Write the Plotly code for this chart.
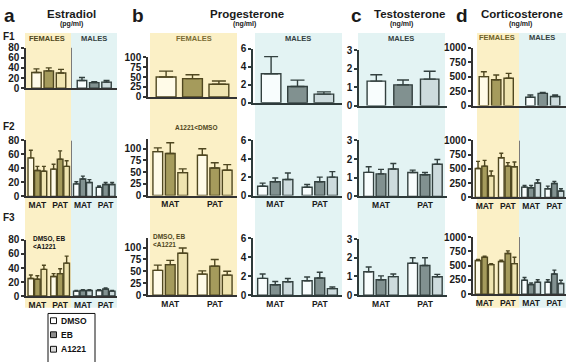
import plotly.graph_objects as go

W, H = 566, 362
TREAT = ["DMSO", "EB", "A1221"]
GEN_GROUPS = ["MAT", "PAT"]

# ---------------- data (rows: DMSO, EB, A1221; columns: groups) ----------------
# Estradiol (pg/ml)
E2_F1_FEM = [[31], [34], [30]]
E2_F1_FEM_ERR = [[7], [6], [7]]
E2_F1_MAL = [[15], [11], [12]]
E2_F1_MAL_ERR = [[6], [2], [3]]
E2_F2_FEM = [[55, 39], [37, 53], [36, 43]]
E2_F2_FEM_ERR = [[11, 7], [6, 12], [7, 8]]
E2_F2_MAL = [[18, 13], [25, 17], [20, 17]]
E2_F2_MAL_ERR = [[3, 2], [4, 3], [4, 3]]
E2_F3_FEM = [[25, 28], [24, 32], [38, 47]]
E2_F3_FEM_ERR = [[5, 4], [5, 7], [6, 10]]
E2_F3_MAL = [[7, 8], [8, 10], [8, 7]]
E2_F3_MAL_ERR = [[1, 1], [1, 1.5], [1, 1]]

# Progesterone (ng/ml)
P4_F1_FEM = [[50], [46], [32]]
P4_F1_FEM_ERR = [[15], [10], [8]]
P4_F1_MAL = [[3.2], [1.8], [0.95]]
P4_F1_MAL_ERR = [[1.9], [0.7], [0.25]]
P4_F2_FEM = [[94, 86], [90, 59], [49, 54]]
P4_F2_FEM_ERR = [[8, 14], [23, 11], [8, 12]]
P4_F2_MAL = [[1.0, 0.9], [1.5, 1.5], [1.75, 2.0]]
P4_F2_MAL_ERR = [[0.35, 0.3], [0.4, 0.5], [0.7, 0.6]]
P4_F3_FEM = [[52, 44], [64, 61], [88, 42]]
P4_F3_FEM_ERR = [[11, 7], [9, 14], [11, 8]]
P4_F3_MAL = [[1.76, 1.5], [1.08, 1.8], [1.4, 0.68]]
P4_F3_MAL_ERR = [[0.45, 0.4], [0.35, 0.6], [0.35, 0.17]]

# Testosterone (ng/ml), males only
T_F1_MAL = [[1.33], [1.13], [1.44]]
T_F1_MAL_ERR = [[0.35], [0.26], [0.43]]
T_F2_MAL = [[1.29, 1.28], [1.21, 1.16], [1.47, 1.72]]
T_F2_MAL_ERR = [[0.3, 0.13], [0.24, 0.12], [0.29, 0.26]]
T_F3_MAL = [[1.25, 1.7], [0.82, 1.58], [0.99, 0.98]]
T_F3_MAL_ERR = [[0.25, 0.3], [0.21, 0.42], [0.14, 0.13]]

# Corticosterone (ng/ml)
C_F1_FEM = [[500], [444], [472]]
C_F1_FEM_ERR = [[83], [84], [84]]
C_F1_MAL = [[144], [211], [156]]
C_F1_MAL_ERR = [[39], [17], [27]]
C_F2_FEM = [[508, 695], [548, 548], [378, 537]]
C_F2_FEM_ERR = [[125, 79], [102, 62], [85, 84]]
C_F2_MAL = [[181, 153], [169, 243], [254, 113]]
C_F2_MAL_ERR = [[28, 45], [40, 39], [57, 40]]
C_F3_FEM = [[590, 573], [646, 713], [517, 534]]
C_F3_FEM_ERR = [[20, 20], [20, 45], [15, 112]]
C_F3_MAL = [[242, 208], [169, 354], [208, 185]]
C_F3_MAL_ERR = [[50, 45], [28, 67], [45, 57]]

E2_TICKS = [0, 20, 40, 60, 80]
P4F_TICKS = [0, 25, 50, 75, 100]
P4M_TICKS = [0, 2, 4, 6]
T_TICKS = [0, 1, 2, 3]
C_TICKS = [0, 250, 500, 750, 1000]

# ---------------- styles ----------------
FONT = "Liberation Sans, Arial, sans-serif"
FILL = {"F": ["#fffbe8", "#a59b5c", "#efe4b0"],
        "M": ["#f8fdfd", "#819190", "#cddbdd"]}
EDGE = {"F": "#4f4720", "M": "#33403f"}
YELLOW = "#fbf0c6"
BLUE = "#e3f3f3"
INK = "#1a1a1a"

fig = go.Figure()


def px_x(v):
    return v / W


def px_y(v):
    return 1 - v / H


def names(n):
    return ("x" if n == 1 else f"x{n}"), ("y" if n == 1 else f"y{n}")


def add_bars(n, xpos, means, errs, sex, g, f, cap):
    xa, ya = names(n)
    slot = g / 3
    for i in range(3):
        fig.add_trace(go.Bar(
            x=xpos, y=means[i],
            offset=-g / 2 + i * slot + slot * (1 - f) / 2, width=slot * f,
            marker=dict(color=FILL[sex][i], line=dict(color=EDGE[sex], width=1.4)),
            error_y=dict(type="data", symmetric=False, array=errs[i],
                         arrayminus=[0] * len(errs[i]), color=EDGE[sex],
                         thickness=1.4, width=cap),
            xaxis=xa, yaxis=ya, showlegend=False, hoverinfo="skip"))


layout_axes = {}


def add_axes(n, xdom, ybot, ytop, xrange, yrange, yticks, xticktext, linecol):
    xa, ya = names(n)
    xkey = "xaxis" if n == 1 else f"xaxis{n}"
    ykey = "yaxis" if n == 1 else f"yaxis{n}"
    layout_axes[xkey] = dict(
        domain=[px_x(xdom[0]), px_x(xdom[1])], range=xrange, anchor=ya,
        showline=True, linecolor=linecol, linewidth=1.5, showgrid=False,
        zeroline=False, ticks="",
        tickvals=list(range(len(xticktext))) if xticktext else [],
        ticktext=xticktext if xticktext else [],
        showticklabels=bool(xticktext),
        tickfont=dict(family=FONT, size=8.5, color=INK, weight="bold"))
    layout_axes[ykey] = dict(
        domain=[px_y(ybot), px_y(ytop)], range=yrange, anchor=xa,
        showline=True, linecolor=linecol, linewidth=1.5, showgrid=False,
        zeroline=False, ticks="outside", ticklen=3, tickwidth=1.5,
        tickcolor=linecol, tickvals=yticks,
        tickfont=dict(family=FONT, size=10, color=INK, weight="bold"))


# x domains (pixels)
XA = (26, 117)
XBF = (148, 237)
XBM = (253, 342)
XC = (359, 447)
XD = (473, 566)
SEXGEN = GEN_GROUPS + GEN_GROUPS

# ---- row F1 ----
add_axes(1, XA, 85, 43, [-0.5, 1.5], [0, 80], E2_TICKS, None, "#333")
add_bars(1, [0], E2_F1_FEM, E2_F1_FEM_ERR, "F", 0.81, 0.77, 3)
add_bars(1, [1], E2_F1_MAL, E2_F1_MAL_ERR, "M", 0.81, 0.77, 3)

add_axes(2, XBF, 94, 53, [-0.5, 0.5], [0, 100], P4F_TICKS, None, "#333")
add_bars(2, [0], P4_F1_FEM, P4_F1_FEM_ERR, "F", 0.89, 0.75, 7)
add_axes(3, XBM, 100, 44, [-0.5, 0.5], [0, 6], P4M_TICKS, None, "#2e3a3a")
add_bars(3, [0], P4_F1_MAL, P4_F1_MAL_ERR, "M", 0.89, 0.74, 7)

add_axes(4, XC, 103, 46, [-0.5, 0.5], [0, 3], T_TICKS, None, "#2e3a3a")
add_bars(4, [0], T_F1_MAL, T_F1_MAL_ERR, "M", 0.91, 0.69, 6)

add_axes(5, XD, 103, 43, [-0.5, 1.5], [0, 1000], C_TICKS, None, "#333")
add_bars(5, [0], C_F1_FEM, C_F1_FEM_ERR, "F", 0.8, 0.75, 3)
add_bars(5, [1], C_F1_MAL, C_F1_MAL_ERR, "M", 0.8, 0.75, 3)

# ---- row F2 ----
add_axes(6, XA, 197, 139, [-0.5, 3.5], [0, 80], E2_TICKS, SEXGEN, "#333")
add_bars(6, [0, 1], E2_F2_FEM, E2_F2_FEM_ERR, "F", 0.86, 0.87, 2)
add_bars(6, [2, 3], E2_F2_MAL, E2_F2_MAL_ERR, "M", 0.86, 0.87, 2)

add_axes(7, XBF, 196, 138, [-0.5, 1.5], [0, 120], P4F_TICKS, GEN_GROUPS, "#333")
add_bars(7, [0, 1], P4_F2_FEM, P4_F2_FEM_ERR, "F", 0.84, 0.78, 4)
add_axes(8, XBM, 196, 139, [-0.5, 1.5], [0, 6], P4M_TICKS, GEN_GROUPS, "#2e3a3a")
add_bars(8, [0, 1], P4_F2_MAL, P4_F2_MAL_ERR, "M", 0.85, 0.79, 3)

add_axes(9, XC, 197, 139, [-0.5, 1.5], [0, 3], T_TICKS, GEN_GROUPS, "#2e3a3a")
add_bars(9, [0, 1], T_F2_MAL, T_F2_MAL_ERR, "M", 0.84, 0.79, 3)

add_axes(10, XD, 198, 139, [-0.5, 3.5], [0, 1000], C_TICKS, SEXGEN, "#333")
add_bars(10, [0, 1], C_F2_FEM, C_F2_FEM_ERR, "F", 0.85, 0.85, 2)
add_bars(10, [2, 3], C_F2_MAL, C_F2_MAL_ERR, "M", 0.85, 0.85, 2)

# ---- row F3 ----
add_axes(11, XA, 300, 242, [-0.5, 3.5], [0, 80], E2_TICKS, SEXGEN, "#333")
add_bars(11, [0, 1], E2_F3_FEM, E2_F3_FEM_ERR, "F", 0.86, 0.87, 2)
add_bars(11, [2, 3], E2_F3_MAL, E2_F3_MAL_ERR, "M", 0.86, 0.87, 2)

add_axes(12, XBF, 299, 240, [-0.5, 1.5], [0, 120], P4F_TICKS, GEN_GROUPS, "#333")
add_bars(12, [0, 1], P4_F3_FEM, P4_F3_FEM_ERR, "F", 0.84, 0.78, 4)
add_axes(13, XBM, 299, 240, [-0.5, 1.5], [0, 6], P4M_TICKS, GEN_GROUPS, "#2e3a3a")
add_bars(13, [0, 1], P4_F3_MAL, P4_F3_MAL_ERR, "M", 0.85, 0.79, 3)

add_axes(14, XC, 299, 241, [-0.5, 1.5], [0, 3], T_TICKS, GEN_GROUPS, "#2e3a3a")
add_bars(14, [0, 1], T_F3_MAL, T_F3_MAL_ERR, "M", 0.84, 0.79, 3)

add_axes(15, XD, 298, 239, [-0.5, 3.5], [0, 1000], C_TICKS, SEXGEN, "#333")
add_bars(15, [0, 1], C_F3_FEM, C_F3_FEM_ERR, "F", 0.85, 0.85, 2)
add_bars(15, [2, 3], C_F3_MAL, C_F3_MAL_ERR, "M", 0.85, 0.85, 2)

# ---- background regions ----
shapes = []


def rect(x0, x1, y0, y1, col, line=None):
    shapes.append(dict(type="rect", xref="paper", yref="paper",
                       x0=px_x(x0), x1=px_x(x1), y0=px_y(y1), y1=px_y(y0),
                       fillcolor=col, line=line or dict(width=0),
                       layer="below" if line is None else "above"))


rect(25, 71, 28, 312, YELLOW)
rect(71, 117, 28, 312, BLUE)
rect(150, 237, 28, 300, YELLOW)
rect(255, 342, 28, 300, BLUE)
rect(358, 445, 28, 300, BLUE)
rect(477, 519, 28, 312, YELLOW)
rect(519, 566, 28, 312, BLUE)

# female / male divider lines
for n, xv, top in [(1, 0.5, 80), (6, 1.5, 80), (10, 1.5, 1000), (15, 1.5, 1000)]:
    xa, ya = names(n)
    shapes.append(dict(type="line", xref=xa, yref=ya, x0=xv, x1=xv, y0=0, y1=top,
                       line=dict(color="#7a7a7a", width=1)))

# ---- text ----
anns = []


def ann(text, x, y, size, color=INK, xanchor="center", align="center"):
    anns.append(dict(text=text, x=px_x(x), y=px_y(y), xref="paper", yref="paper",
                     xanchor=xanchor, yanchor="middle", showarrow=False, align=align,
                     font=dict(family=FONT, size=size, color=color)))


ann("<b>a</b>", 2, 10, 19, xanchor="left")
ann("<b>b</b>", 130, 10, 19, xanchor="left")
ann("<b>c</b>", 349, 10, 19, xanchor="left")
ann("<b>d</b>", 454, 10, 19, xanchor="left")
ann("<b>Estradiol</b>", 71, 8, 11.5)
ann("<b>(pg/ml)</b>", 71, 19, 7)
ann("<b>Progesterone</b>", 247, 8, 11.5)
ann("<b>(ng/ml)</b>", 244, 19, 7)
ann("<b>Testosterone</b>", 409, 8, 11.5)
ann("<b>(ng/ml)</b>", 401, 19, 7)
ann("<b>Corticosterone</b>", 522, 8, 11.5)
ann("<b>(ng/ml)</b>", 520, 19, 7)
ann("<b>F1</b>", 1, 32, 10, xanchor="left")
ann("<b>F2</b>", 1, 125, 10, xanchor="left")
ann("<b>F3</b>", 1, 219, 10, xanchor="left")

FEM_TXT = "#4f4720"
MAL_TXT = "#33403f"
ann("<b>FEMALES</b>", 47, 34, 7.5, FEM_TXT)
ann("<b>MALES</b>", 94, 34, 7.5, MAL_TXT)
ann("<b>FEMALES</b>", 194, 34, 7.5, "#7a6d35")
ann("<b>MALES</b>", 298, 34, 7.5, MAL_TXT)
ann("<b>MALES</b>", 401, 34, 7.5, MAL_TXT)
ann("<b>FEMALES</b>", 497, 33, 7.5, "#6e6228")
ann("<b>MALES</b>", 542, 33, 7.5, MAL_TXT)

ann("<b>A1221&lt;DMSO</b>", 196, 126, 6.5, FEM_TXT)
ann("<b>DMSO, EB<br>&lt;A1221</b>", 151, 243, 6.5, FEM_TXT, xanchor="left", align="left")
ann("<b>DMSO, EB<br>&lt;A1221</b>", 31, 245, 6.5, "#111", xanchor="left", align="left")

# ---- legend box (drawn in page pixels) ----
LEG_FILL = ["#ffffff", "#8c8c8c", "#d9d9d9"]
LEG_ROWS = [325.5, 340, 355]
rect(48, 95, 318, 370, "white", dict(color="#111", width=1))
for i, t in enumerate(TREAT):
    yc = LEG_ROWS[i]
    rect(50.5, 56.5, yc - 3, yc + 3, LEG_FILL[i], dict(color="#111", width=1))
    ann(f"<b>{t}</b>", 59, yc, 8.5, "#111", xanchor="left", align="left")

fig.update_layout(
    width=W, height=H, autosize=False,
    margin=dict(l=0, r=0, t=0, b=0),
    paper_bgcolor="white", plot_bgcolor="rgba(0,0,0,0)",
    barmode="overlay",
    shapes=shapes, annotations=anns,
    showlegend=False,
    **layout_axes,
)

fig.write_html(
    "out.html",
    config={"displayModeBar": False},
    post_script="document.body.style.margin='0';document.body.style.overflow='hidden';",
)
